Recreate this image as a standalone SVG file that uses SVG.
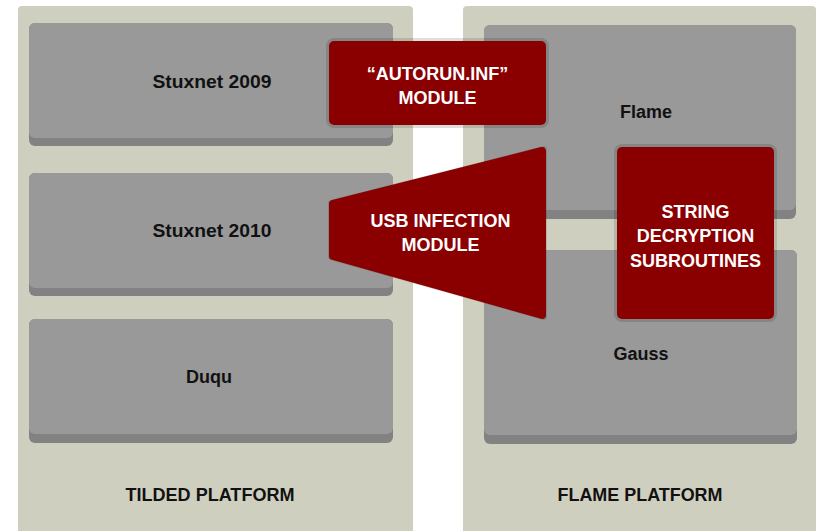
<svg xmlns="http://www.w3.org/2000/svg" width="821" height="531" viewBox="0 0 821 531">
<style>
.panel{fill:#cfcfc0}
.boxstrip{fill:#828282}
.box{fill:#999999}
.red{fill:#8a0000}
.halo{fill:none;stroke:#000;stroke-opacity:0.13;stroke-width:6;stroke-linejoin:round}
.lbl{font-family:"Liberation Sans",Arial,sans-serif;font-weight:bold;font-size:18px;fill:#111;text-anchor:middle}
.wlbl{font-family:"Liberation Sans",Arial,sans-serif;font-weight:bold;font-size:18px;fill:#fff;text-anchor:middle}
</style>
<rect width="821" height="531" fill="#ffffff"/>
<g id="tilded-platform">
<rect class="panel" x="18" y="6" width="395" height="530" rx="4"/>
<text class="lbl" x="210" y="501" textLength="169" lengthAdjust="spacingAndGlyphs">TILDED PLATFORM</text>
</g>
<g id="flame-platform">
<rect class="panel" x="463" y="6" width="353" height="530" rx="4"/>
<text class="lbl" x="640" y="501" textLength="165" lengthAdjust="spacingAndGlyphs">FLAME PLATFORM</text>
</g>
<g id="stuxnet2009">
<rect class="boxstrip" x="29" y="23" width="364" height="123" rx="6"/>
<rect class="box" x="29" y="23" width="364" height="115" rx="6"/>
<text class="lbl" x="212" y="88" textLength="119" lengthAdjust="spacingAndGlyphs">Stuxnet 2009</text>
</g>
<g id="stuxnet2010">
<rect class="boxstrip" x="29" y="173" width="364" height="123" rx="6"/>
<rect class="box" x="29" y="173" width="364" height="115" rx="6"/>
<text class="lbl" x="212" y="237" textLength="119" lengthAdjust="spacingAndGlyphs">Stuxnet 2010</text>
</g>
<g id="duqu">
<rect class="boxstrip" x="29" y="319" width="364" height="124" rx="6"/>
<rect class="box" x="29" y="319" width="364" height="115" rx="6"/>
<text class="lbl" x="209" y="383">Duqu</text>
</g>
<g id="flame">
<rect class="boxstrip" x="484" y="25" width="312" height="194" rx="6"/>
<rect class="box" x="484" y="25" width="312" height="185" rx="6"/>
<text class="lbl" x="646" y="118">Flame</text>
</g>
<g id="gauss">
<rect class="boxstrip" x="484" y="250" width="313" height="194" rx="6"/>
<rect class="box" x="484" y="250" width="313" height="185" rx="6"/>
<text class="lbl" x="641" y="360">Gauss</text>
</g>
<g id="autorun-module">
<rect class="halo" x="329" y="41" width="217" height="84" rx="5"/>
<rect class="red" x="329" y="41" width="217" height="84" rx="5"/>
<text class="wlbl" x="437.5" y="80">“AUTORUN.INF”</text>
<text class="wlbl" x="437.5" y="104">MODULE</text>
</g>
<g id="usb-infection-module">
<polygon class="halo" points="331,203 544,149 544,317 331,257"/>
<polygon points="333,204 542,151 542,315 333,256" fill="#8a0000" stroke="#8a0000" stroke-width="8" stroke-linejoin="round"/>
<text class="wlbl" x="440.5" y="227">USB INFECTION</text>
<text class="wlbl" x="440.5" y="251">MODULE</text>
</g>
<g id="string-decryption-subroutines">
<rect class="halo" x="617" y="147" width="157" height="172" rx="5"/>
<rect class="red" x="617" y="147" width="157" height="172" rx="5"/>
<text class="wlbl" x="695.5" y="218">STRING</text>
<text class="wlbl" x="695.5" y="242">DECRYPTION</text>
<text class="wlbl" x="695.5" y="267">SUBROUTINES</text>
</g>
<g id="connectors"/>
</svg>
